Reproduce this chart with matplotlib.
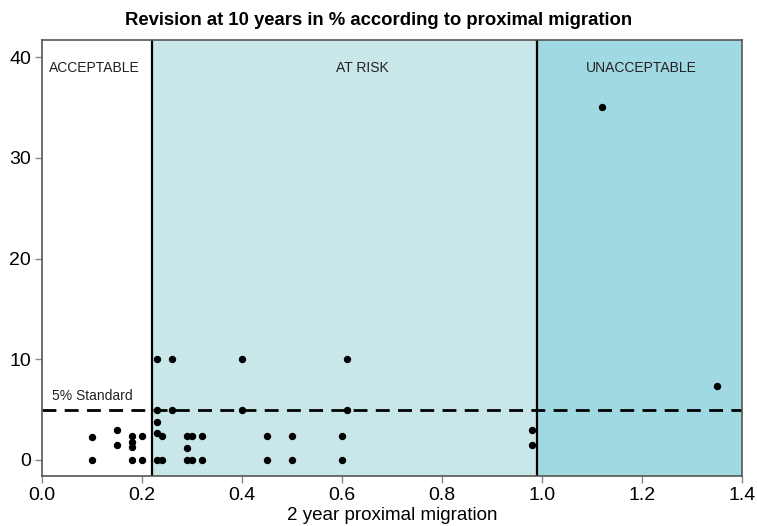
import matplotlib
matplotlib.use("Agg")
import matplotlib.pyplot as plt

plt.rcParams['font.family'] = ['Liberation Sans', 'DejaVu Sans']

migration = [0.10, 0.10, 0.15, 0.15, 0.18, 0.18, 0.18, 0.18, 0.20, 0.20,
             0.23, 0.26, 0.23, 0.26, 0.23, 0.23, 0.24, 0.23, 0.24,
             0.29, 0.30, 0.32, 0.29, 0.29, 0.30, 0.32,
             0.40, 0.61, 0.40, 0.61, 0.45, 0.50, 0.60, 0.45, 0.50, 0.60,
             0.98, 0.98, 1.12, 1.35]
revision = [2.3, 0.0, 3.0, 1.5, 2.4, 1.8, 1.3, 0.0, 2.4, 0.0,
            10.0, 10.0, 5.0, 5.0, 3.8, 2.7, 2.4, 0.0, 0.0,
            2.4, 2.4, 2.4, 1.2, 0.0, 0.0, 0.0,
            10.0, 10.0, 5.0, 5.0, 2.35, 2.35, 2.35, 0.0, 0.0, 0.0,
            3.0, 1.45, 35.0, 7.3]

thresholds = [0.22, 0.99]
zone_labels = ["ACCEPTABLE", "AT RISK", "UNACCEPTABLE"]
zone_label_x = [0.105, 0.64, 1.198]
zone_colors = ["#FFFFFF", "#C9E7E9", "#A1D9E3"]
standard = 5
x_ticks = [0.0, 0.2, 0.4, 0.6, 0.8, 1.0, 1.2, 1.4]
y_ticks = [0, 10, 20, 30, 40]

fig = plt.figure(figsize=(7.57, 5.26), dpi=100)
ax = fig.add_axes([0.0555, 0.095, 0.9245, 0.829])

xmin, xmax = 0.0, 1.4
ymin, ymax = -1.6, 41.7
edges = [xmin] + thresholds + [xmax]
for i in range(3):
    ax.axvspan(edges[i], edges[i + 1], color=zone_colors[i], zorder=0, lw=0)
    ax.text(zone_label_x[i], 38.9, zone_labels[i], ha='center', va='center',
            fontsize=10, color='#222222')
for t in thresholds:
    ax.axvline(t, color='black', lw=1.6, zorder=2)

ax.axhline(standard, color='black', lw=2, ls=(0, (5, 3)), zorder=2)
ax.text(0.02, 6.3, "5% Standard", fontsize=10, color='#222222', ha='left', va='center')

ax.plot(migration, revision, 'o', color='black', markersize=4.3, zorder=3)

ax.set_xlim(xmin, xmax)
ax.set_ylim(ymin, ymax)
ax.set_xticks(x_ticks)
ax.set_xticklabels([f"{v:.1f}" for v in x_ticks])
ax.set_yticks(y_ticks)
ax.tick_params(axis='both', labelsize=14, color='#888888', length=5, width=1, pad=3)
for s in ax.spines.values():
    s.set_color('#555555')
    s.set_linewidth(1.2)
ax.set_xlabel("2 year proximal migration", fontsize=13.5, labelpad=2)
fig.suptitle("Revision at 10 years in % according to proximal migration",
             fontsize=13.3, fontweight='bold', y=0.978)

fig.savefig("out.png", dpi=100)
